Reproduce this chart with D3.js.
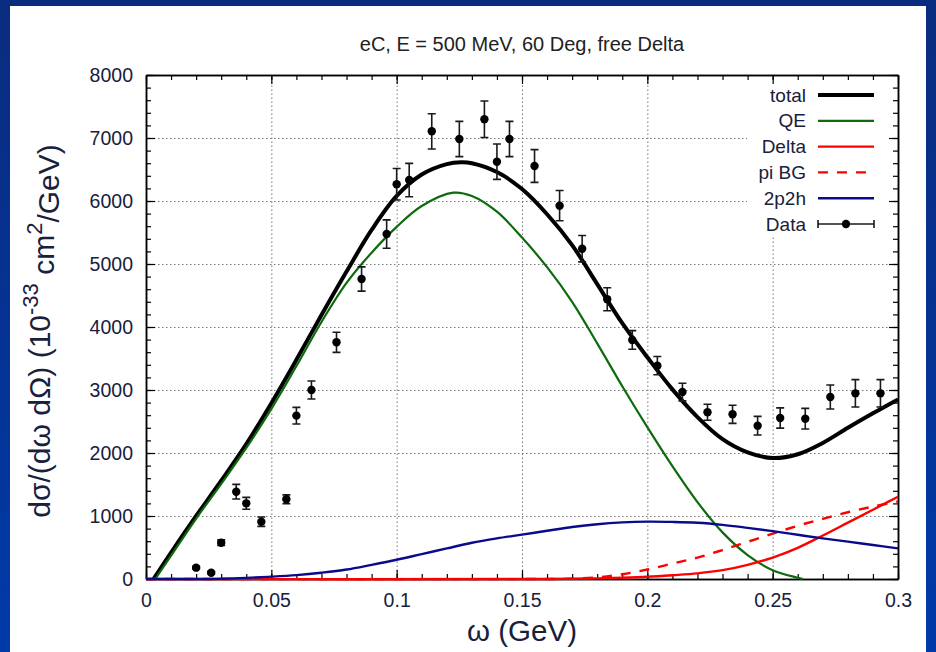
<!DOCTYPE html>
<html lang="en">
<head>
  <meta charset="UTF-8">
  <title>eC, E = 500 MeV, 60 Deg, free Delta</title>
  <script src="https://d3js.org/d3.v7.min.js"></script>
  <style>
    body {
      margin: 0;
      font-family: "Liberation Sans", Arial, sans-serif;
    }
    .tick text {
      font-family: "Liberation Sans", Arial, sans-serif;
      fill: #18203c;
    }
    .grid line {
      stroke: #777;
      stroke-width: 1;
      stroke-dasharray: 1.5 2.5;
    }
    .grid path { display: none; }
  </style>
</head>
<body>
  <svg id="chart" width="936" height="652"></svg>

  <script>
    // curve values (omega in GeV, cross section in 1e-33 cm^2/GeV)
    const totalW = [0.003, 0.01, 0.02, 0.03, 0.04, 0.05, 0.06, 0.07, 0.08, 0.09, 0.10, 0.11, 0.12, 0.1257, 0.13, 0.14, 0.15, 0.16, 0.17, 0.18, 0.19, 0.20, 0.21, 0.22, 0.23, 0.24, 0.25, 0.26, 0.27, 0.28, 0.29, 0.30];
    const totalV = [0, 420, 1000, 1560, 2140, 2790, 3480, 4190, 4880, 5540, 6080, 6420, 6585, 6614, 6600, 6460, 6190, 5790, 5300, 4680, 4060, 3520, 3010, 2570, 2220, 2010, 1920, 1980, 2160, 2400, 2630, 2850];

    const qeW = [0.0037, 0.01, 0.02, 0.03, 0.04, 0.05, 0.06, 0.07, 0.08, 0.09, 0.10, 0.11, 0.1226, 0.13, 0.14, 0.15, 0.16, 0.17, 0.18, 0.19, 0.20, 0.21, 0.22, 0.23, 0.24, 0.25, 0.26, 0.262];
    const qeV = [0, 370, 960, 1510, 2080, 2700, 3380, 4080, 4700, 5180, 5590, 5920, 6132, 6080, 5830, 5420, 4950, 4400, 3740, 3060, 2410, 1790, 1220, 740, 380, 140, 20, 0];

    const deltaW = [0, 0.16, 0.18, 0.19, 0.20, 0.21, 0.22, 0.23, 0.24, 0.25, 0.26, 0.27, 0.28, 0.29, 0.30];
    const deltaV = [0, 0, 10, 20, 35, 60, 90, 140, 225, 340, 495, 690, 895, 1100, 1306];

    const piW = [0, 0.16, 0.17, 0.18, 0.19, 0.20, 0.21, 0.22, 0.23, 0.24, 0.25, 0.26, 0.27, 0.28, 0.29, 0.30];
    const piV = [0, 0, 5, 25, 75, 150, 245, 340, 460, 590, 720, 845, 955, 1060, 1150, 1230];

    const mecW = [0, 0.02, 0.03, 0.04, 0.05, 0.06, 0.07, 0.08, 0.09, 0.10, 0.11, 0.12, 0.13, 0.14, 0.15, 0.16, 0.17, 0.18, 0.19, 0.20, 0.21, 0.22, 0.23, 0.24, 0.25, 0.26, 0.27, 0.28, 0.29, 0.30];
    const mecV = [0, 0, 5, 18, 37, 62, 100, 150, 225, 305, 395, 485, 575, 645, 705, 765, 825, 870, 898, 910, 906, 893, 860, 812, 760, 702, 645, 593, 540, 487];

    // measured data with errors
    const dataW = [0.020, 0.026, 0.030, 0.036, 0.040, 0.046, 0.056, 0.060, 0.066, 0.076, 0.086, 0.096, 0.100, 0.105, 0.114, 0.125, 0.135, 0.140, 0.145, 0.155, 0.165, 0.174, 0.184, 0.194, 0.204, 0.214, 0.224, 0.234, 0.244, 0.253, 0.263, 0.273, 0.283, 0.293];
    const dataV = [180, 100, 576, 1386, 1201, 910, 1265, 2593, 3000, 3757, 4762, 5476, 6265, 6333, 7106, 6984, 7297, 6624, 6984, 6556, 5926, 5243, 4440, 3794, 3386, 2968, 2646, 2614, 2434, 2556, 2545, 2889, 2947, 2947];
    const dataE = [20, 20, 45, 116, 95, 74, 71, 132, 143, 159, 193, 225, 250, 265, 280, 280, 290, 280, 280, 260, 240, 210, 183, 148, 145, 140, 127, 143, 148, 161, 164, 190, 217, 217];

    const xTicks = [0, 0.05, 0.1, 0.15, 0.2, 0.25, 0.3];
    const xTickLabels = ["0", "0.05", "0.1", "0.15", "0.2", "0.25", "0.3"];
    const yTicks = [0, 1000, 2000, 3000, 4000, 5000, 6000, 7000, 8000];
    const legendNames = ["total", "QE", "Delta", "pi BG", "2p2h", "Data"];

    const width = 936, height = 652;
    const pLeft = 146, pRight = 898, pTop = 75, pBottom = 579;

    const svg = d3.select("#chart");

    // slide background
    const grad = svg.append("defs").append("linearGradient")
      .attr("id", "bg").attr("x1", 0).attr("y1", 0).attr("x2", 0).attr("y2", 1);
    grad.append("stop").attr("offset", "0%").attr("stop-color", "#0a2c7e");
    grad.append("stop").attr("offset", "100%").attr("stop-color", "#003aa8");
    svg.append("rect").attr("width", width).attr("height", height).attr("fill", "url(#bg)");
    svg.append("rect").attr("x", 10).attr("y", 6).attr("width", 916).attr("height", height - 6).attr("fill", "#fff");

    const x = d3.scaleLinear().domain([0, 0.3]).range([pLeft, pRight]);
    const y = d3.scaleLinear().domain([0, 8000]).range([pBottom, pTop]);

    const minorX = d3.range(0, 0.3001, 0.01);
    const minorY = d3.range(0, 8001, 200);

    // grid
    svg.append("g").attr("class", "grid")
      .attr("transform", `translate(0,${pBottom})`)
      .call(d3.axisBottom(x).tickValues(xTicks.slice(1, -1)).tickSize(-(pBottom - pTop)).tickFormat(""));
    svg.append("g").attr("class", "grid")
      .attr("transform", `translate(${pLeft},0)`)
      .call(d3.axisLeft(y).tickValues(yTicks.slice(1, -1)).tickSize(-(pRight - pLeft)).tickFormat(""));

    // legend background hides grid behind it
    svg.append("rect").attr("x", 747).attr("y", 80).attr("width", 145).attr("height", 156).attr("fill", "#fff");

    // axes with inward ticks, mirrored
    function styleAxis(g) {
      g.select(".domain").attr("stroke", "#000").attr("stroke-width", 1.5);
      g.selectAll(".tick line").attr("stroke", "#000").attr("stroke-width", 1.2);
    }
    svg.append("g").attr("transform", `translate(0,${pBottom})`)
      .call(d3.axisBottom(x).tickValues(minorX).tickSize(-5).tickSizeOuter(0).tickFormat("")).call(styleAxis);
    svg.append("g").attr("transform", `translate(0,${pTop})`)
      .call(d3.axisTop(x).tickValues(minorX).tickSize(-5).tickSizeOuter(0).tickFormat("")).call(styleAxis);
    svg.append("g").attr("transform", `translate(${pLeft},0)`)
      .call(d3.axisLeft(y).tickValues(minorY).tickSize(-5).tickSizeOuter(0).tickFormat("")).call(styleAxis);
    svg.append("g").attr("transform", `translate(${pRight},0)`)
      .call(d3.axisRight(y).tickValues(minorY).tickSize(-5).tickSizeOuter(0).tickFormat("")).call(styleAxis);

    svg.append("g").attr("transform", `translate(0,${pBottom})`)
      .call(d3.axisBottom(x).tickValues(xTicks).tickSize(-9).tickSizeOuter(0).tickPadding(14)
        .tickFormat((d, i) => xTickLabels[i])).call(styleAxis);
    svg.append("g").attr("transform", `translate(0,${pTop})`)
      .call(d3.axisTop(x).tickValues(xTicks).tickSize(-9).tickSizeOuter(0).tickFormat("")).call(styleAxis);
    svg.append("g").attr("transform", `translate(${pLeft},0)`)
      .call(d3.axisLeft(y).tickValues(yTicks).tickSize(-9).tickSizeOuter(0).tickPadding(13)
        .tickFormat(d3.format("d"))).call(styleAxis);
    svg.append("g").attr("transform", `translate(${pRight},0)`)
      .call(d3.axisRight(y).tickValues(yTicks).tickSize(-9).tickSizeOuter(0).tickFormat("")).call(styleAxis);

    svg.selectAll(".tick text").attr("font-size", "19.5px");

    // curves
    const line = d3.line().x(d => x(d[0])).y(d => y(d[1])).curve(d3.curveCatmullRom.alpha(0.5));
    const curves = [
      { w: totalW, v: totalV, color: "#000", width: 4, dash: null },
      { w: qeW, v: qeV, color: "#0d6b0d", width: 2.2, dash: null },
      { w: deltaW, v: deltaV, color: "#ff0000", width: 2.4, dash: null },
      { w: piW, v: piV, color: "#ff0000", width: 2.4, dash: "10 9" },
      { w: mecW, v: mecV, color: "#0a0a8c", width: 2.4, dash: null }
    ];
    curves.forEach(c => {
      svg.append("path")
        .datum(c.w.map((w, i) => [w, c.v[i]]))
        .attr("fill", "none")
        .attr("stroke", c.color)
        .attr("stroke-width", c.width)
        .attr("stroke-dasharray", c.dash)
        .attr("d", line);
    });

    // data points with error bars
    const pts = dataW.map((w, i) => ({ w: w, v: dataV[i], e: dataE[i] }));
    const g = svg.append("g").attr("stroke", "#1a1a1a").attr("stroke-width", 1.6);
    g.selectAll(".eb").data(pts).enter().append("path")
      .attr("fill", "none")
      .attr("d", d => {
        const cx = x(d.w), y0 = y(d.v - d.e), y1 = y(d.v + d.e);
        return `M${cx},${y0}V${y1}M${cx - 4},${y0}H${cx + 4}M${cx - 4},${y1}H${cx + 4}`;
      });
    svg.selectAll(".pt").data(pts).enter().append("circle")
      .attr("cx", d => x(d.w)).attr("cy", d => y(d.v)).attr("r", 4.2).attr("fill", "#000");

    // legend
    const leg = svg.append("g");
    legendNames.forEach((name, i) => {
      const ly = 95 + i * 25.8;
      leg.append("text").attr("x", 806).attr("y", ly).attr("dy", "0.35em")
        .attr("text-anchor", "end").attr("font-size", "19px").attr("fill", "#18203c").text(name);
      if (i < 5) {
        const c = curves[i];
        leg.append("line").attr("x1", 818).attr("x2", 874).attr("y1", ly).attr("y2", ly)
          .attr("stroke", c.color).attr("stroke-width", c.width)
          .attr("stroke-dasharray", c.dash ? "10 9" : null);
      } else {
        leg.append("path").attr("fill", "none").attr("stroke", "#1a1a1a").attr("stroke-width", 1.6)
          .attr("d", `M818,${ly}H874M818,${ly - 4}V${ly + 4}M874,${ly - 4}V${ly + 4}`);
        leg.append("circle").attr("cx", 846).attr("cy", ly).attr("r", 4.2).attr("fill", "#000");
      }
    });

    // title and axis labels
    svg.append("text").attr("x", (pLeft + pRight) / 2).attr("y", 44).attr("dy", "0.35em")
      .attr("text-anchor", "middle").attr("font-size", "20px").attr("fill", "#222")
      .text("eC, E = 500 MeV, 60 Deg, free Delta");

    svg.append("text").attr("x", (pLeft + pRight) / 2).attr("y", 641)
      .attr("text-anchor", "middle").attr("font-size", "29.5px").attr("fill", "#18203c")
      .text("ω (GeV)");

    const yl = svg.append("text")
      .attr("transform", `translate(50,331) rotate(-90)`)
      .attr("text-anchor", "middle").attr("font-size", "30px").attr("fill", "#18203c");
    yl.append("tspan").text("dσ/(dω dΩ) (10");
    yl.append("tspan").attr("dy", "-0.55em").attr("font-size", "22px").text("-33");
    yl.append("tspan").attr("dy", "0.55em").text(" cm");
    yl.append("tspan").attr("dy", "-0.55em").attr("font-size", "22px").text("2");
    yl.append("tspan").attr("dy", "0.55em").text("/GeV)");
  </script>
</body>
</html>
